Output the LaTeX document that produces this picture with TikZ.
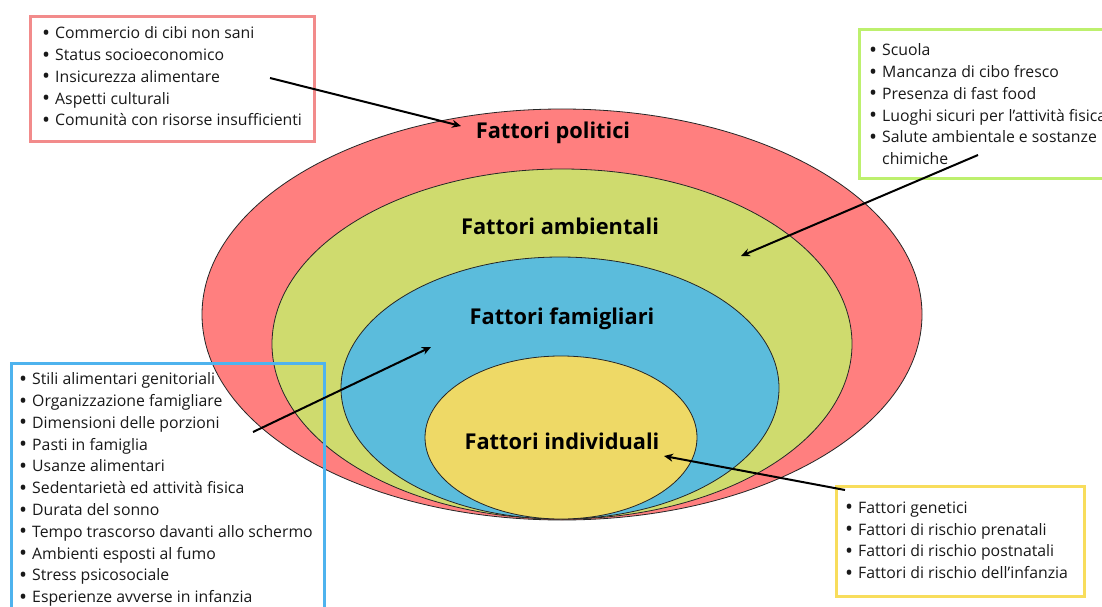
\documentclass[tikz,border=0pt]{standalone}
\usepackage{fontspec}
\setmainfont{Open Sans}
\usetikzlibrary{arrows.meta}
\definecolor{redfill}{HTML}{FF7F7F}
\definecolor{greenfill}{HTML}{CFDB6E}
\definecolor{bluefill}{HTML}{5BBCDC}
\definecolor{yellowfill}{HTML}{EED966}
\definecolor{redline}{HTML}{F28B8B}
\definecolor{greenline}{HTML}{BDF06E}
\definecolor{blueline}{HTML}{4EB3EE}
\definecolor{yellowline}{HTML}{F8DD5C}
\tikzset{
  ring/.style={draw=black!85, line width=0.8pt},
  factor/.style={font=\fontsize{21.8}{24}\selectfont\bfseries, text=black},
  listbox/.style={line width=3pt, anchor=north west, inner sep=0pt},
  listtext/.style={anchor=north west, align=left, inner sep=0pt,
    font=\fontsize{15.8}{21.8}\selectfont, text=black!90},
  pointer/.style={line width=2pt, -{Stealth[length=9pt,width=8pt]}}
}
\newcommand{\bl}{\raisebox{-1.5pt}{\scalebox{1.35}{\textbullet}}\hspace{5pt}}
\newcommand{\bi}{\phantom{\scalebox{1.35}{\textbullet}}\hspace{5pt}}
\begin{document}
\begin{tikzpicture}[x=1pt,y=-1pt]
\useasboundingbox (0,0) rectangle (1102,607);
\clip (0,0) rectangle (1102,607);
\fill[white] (0,0) rectangle (1102,607);
% rings
\draw[ring, fill=redfill] (562,314.5) ellipse [x radius=360, y radius=205.5];
\draw[ring, fill=greenfill] (562,344) ellipse [x radius=290, y radius=175];
\draw[ring, fill=bluefill] (560,388) ellipse [x radius=219, y radius=131];
\draw[ring, fill=yellowfill] (561,437.5) ellipse [x radius=136, y radius=81.5];
% labels
\node[factor] (polit) at (553,133) {Fattori politici};
\node[factor] (amb) at (560,226) {Fattori ambientali};
\node[factor] (fam) at (562,319) {Fattori famigliari};
\node[factor] (ind) at (562,441) {Fattori individuali};
% boxes
\node[listbox, draw=redline, minimum width=284, minimum height=125] (rbox) at (29,15) {};
\node[listtext] (rtext) at (42,26.5) {\bl Commercio di cibi non sani\\
\bl Status socioeconomico\\
\bl Insicurezza alimentare\\
\bl Aspetti culturali\\
\bl Comunità con risorse insufficienti};
\node[listbox, draw=greenline, minimum width=260, minimum height=149] (gbox) at (858,28) {};
\node[listtext] (gtext) at (869,43.5) {\bl Scuola\\
\bl Mancanza di cibo fresco\\
\bl Presenza di fast food\\
\bl Luoghi sicuri per l’attività fisica\\
\bl Salute ambientale e sostanze\\
\bi chimiche};
\node[listbox, draw=blueline, minimum width=313, minimum height=260] (bbox) at (10,362) {};
\node[listtext] (btext) at (19,372.5) {\bl Stili alimentari genitoriali\\
\bl Organizzazione famigliare\\
\bl Dimensioni delle porzioni\\
\bl Pasti in famiglia\\
\bl Usanze alimentari\\
\bl Sedentarietà ed attività fisica\\
\bl Durata del sonno\\
\bl Tempo trascorso davanti allo schermo\\
\bl Ambienti esposti al fumo\\
\bl Stress psicosociale\\
\bl Esperienze avverse in infanzia};
\node[listbox, draw=yellowline, minimum width=248, minimum height=110] (ybox) at (835,485) {};
\node[listtext] (ytext) at (845,501.5) {\bl Fattori genetici\\
\bl Fattori di rischio prenatali\\
\bl Fattori di rischio postnatali\\
\bl Fattori di rischio dell’infanzia};
% arrow ends
\coordinate (rs) at (270,78);
\coordinate (re) at (461,126);
\coordinate (gs) at (978,155);
\coordinate (ge) at (741,256);
\coordinate (bs) at (253,432);
\coordinate (be) at (431,347);
\coordinate (ys) at (845,490);
\coordinate (ye) at (664,456);
\draw[pointer] (rs) -- (re);
\draw[pointer] (gs) -- (ge);
\draw[pointer] (bs) -- (be);
\draw[pointer] (ys) -- (ye);
\end{tikzpicture}
\end{document}
